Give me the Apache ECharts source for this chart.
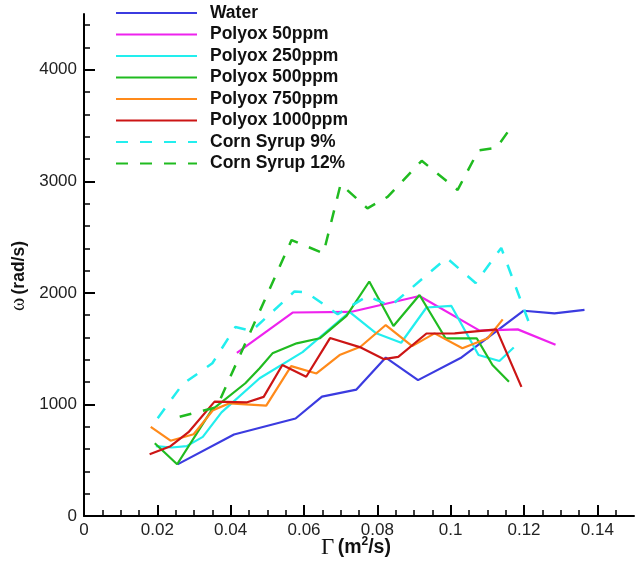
<!DOCTYPE html>
<html>
<head>
<meta charset="utf-8">
<script src="https://cdn.jsdelivr.net/npm/echarts@6/dist/echarts.min.js"></script>
<style>html,body{margin:0;padding:0;background:#fff;}#c{width:635px;height:562px;}</style>
</head>
<body>
<div id="c"></div>
<script>
// ---- data (Γ in m^2/s, ω in rad/s) ----
const water      = [[0.0255,463],[0.0409,731],[0.0577,874],[0.0649,1070],[0.0743,1133],[0.0823,1420],[0.0911,1218],[0.1027,1416],[0.1124,1654],[0.1199,1840],[0.1283,1817],[0.1365,1847]];
const polyox50   = [[0.0417,1463],[0.0569,1824],[0.0727,1829],[0.0915,1972],[0.1079,1662],[0.1183,1673],[0.1286,1535]];
const polyox250  = [[0.0196,626],[0.0239,614],[0.0280,626],[0.0324,709],[0.0375,929],[0.0479,1235],[0.0596,1469],[0.0724,1829],[0.0797,1638],[0.0865,1553],[0.0934,1869],[0.1002,1883],[0.1076,1443],[0.1133,1389],[0.1172,1510]];
const polyox500  = [[0.0193,652],[0.0254,464],[0.0348,949],[0.0440,1190],[0.0479,1324],[0.0514,1458],[0.0580,1548],[0.0643,1593],[0.0716,1794],[0.0778,2102],[0.0844,1703],[0.0915,1981],[0.0986,1593],[0.1071,1593],[0.1114,1353],[0.1159,1203]];
const polyox750  = [[0.0182,799],[0.0236,675],[0.0299,733],[0.0352,949],[0.0397,1010],[0.0497,989],[0.0565,1344],[0.0634,1278],[0.0697,1443],[0.0754,1517],[0.0823,1712],[0.0895,1523],[0.0956,1637],[0.1032,1503],[0.1101,1593],[0.1142,1763]];
const polyox1000 = [[0.0179,554],[0.0236,626],[0.0285,751],[0.0356,1025],[0.0443,1018],[0.0490,1068],[0.0541,1353],[0.0606,1248],[0.0671,1595],[0.0752,1514],[0.0817,1407],[0.0857,1427],[0.0934,1636],[0.1011,1637],[0.1125,1673],[0.1193,1158]];
const cornSyrup9 = [[0.0201,877],[0.0269,1182],[0.0350,1369],[0.0413,1694],[0.0457,1658],[0.0574,2013],[0.0607,2004],[0.0692,1809],[0.0773,1972],[0.0836,1883],[0.0989,2313],[0.1068,2089],[0.1138,2403],[0.1218,1694]];
const cornSyrup12= [[0.0261,890],[0.0362,976],[0.0566,2473],[0.0653,2355],[0.0700,2975],[0.0773,2758],[0.0828,2861],[0.0921,3184],[0.1019,2923],[0.1076,3278],[0.1125,3301],[0.1166,3490]];

const seriesNames = ['Water','Polyox 50ppm','Polyox 250ppm','Polyox 500ppm','Polyox 750ppm','Polyox 1000ppm','Corn Syrup 9%','Corn Syrup 12%'];

// ---- tick values ----
const xMajorTicks = [0,0.02,0.04,0.06,0.08,0.1,0.12,0.14];
const xMinorTicks = [0.005,0.01,0.015,0.025,0.03,0.035,0.045,0.05,0.055,0.065,0.07,0.075,0.085,0.09,0.095,0.105,0.11,0.115,0.125,0.13,0.135,0.145];
const yMajorTicks = [0,1000,2000,3000,4000];
const yMinorTicks = [200,400,600,800,1200,1400,1600,1800,2200,2400,2600,2800,3200,3400,3600,3800,4200,4400];

const FONT = '"Liberation Sans", Arial, sans-serif';
const colors = ['#3b3be0','#ee22ee','#22eeee','#20bb20','#ff8a1a','#cc1515','#22eeee','#20bb20'];
const dataSets = [water,polyox50,polyox250,polyox500,polyox750,polyox1000,cornSyrup9,cornSyrup12];

const series = dataSets.map((d,i)=>({
  name: seriesNames[i],
  type: 'line',
  xAxisIndex: 0, yAxisIndex: 0,
  data: d,
  symbol: 'circle',
  symbolSize: 0,
  showSymbol: false,
  animation: false,
  lineStyle: {color: colors[i], width: i>=6 ? 2.5 : 2.2, type: i>=6 ? [12,12] : 'solid'},
  itemStyle: {color: colors[i]}
}));

const chart = echarts.init(document.getElementById('c'), null, {renderer:'canvas'});
chart.setOption({
  backgroundColor: '#fff',
  animation: false,
  grid: {left: 84, right: 1, top: 14, bottom: 46, containLabel: false, outerBoundsMode: 'none'},
  legend: {
    orient: 'vertical', left: 115, top: 4, padding: 0,
    itemWidth: 81, itemHeight: 14, itemGap: 3.5,
    data: seriesNames,
    itemStyle: {opacity: 0},
    textStyle: {fontFamily: FONT, fontSize: 17.5, fontWeight: 'bold', color: '#111', padding: [0,0,0,8]}
  },
  xAxis: [{
    type: 'value', min: 0, max: 0.15,
    name: '{g|Γ} {b|(m}{s|2}{b|/s)}', nameLocation: 'middle', nameGap: 20, nameMoveOverlap: false,
    nameTextStyle: {padding: [0, 6, 0, 0], rich: {
      g: {fontFamily: '"Liberation Serif", "DejaVu Serif", serif', fontSize: 23, color: '#111'},
      b: {fontFamily: FONT, fontSize: 19.5, fontWeight: 'bold', color: '#111'},
      s: {fontFamily: FONT, fontSize: 12, fontWeight: 'bold', color: '#111', verticalAlign: 'top'}
    }},
    axisLine: {show: true, lineStyle: {color: '#000', width: 2}},
    axisTick: {show: true, inside: true, length: 11, lineStyle: {color: '#000', width: 2}, customValues: xMajorTicks},
    axisLabel: {show: true, margin: 6, fontFamily: FONT, fontSize: 17, color: '#222', customValues: xMajorTicks,
      formatter: v => String(v)},
    splitLine: {show: false}
  },{
    type: 'value', min: 0, max: 0.15, position: 'bottom',
    axisLine: {show: false},
    axisTick: {show: true, inside: true, length: 6, lineStyle: {color: '#000', width: 1.5}, customValues: xMinorTicks},
    axisLabel: {show: false},
    splitLine: {show: false}
  }],
  yAxis: [{
    type: 'value', min: 0, max: 4500,
    name: '{w|ω} {b|(rad/s)}', nameLocation: 'middle', nameGap: 55, nameMoveOverlap: false,
    nameTextStyle: {padding: [0, 22, 0, 0], rich: {
      w: {fontFamily: '"Liberation Serif", "DejaVu Serif", serif', fontSize: 20, color: '#111'},
      b: {fontFamily: FONT, fontSize: 17.5, fontWeight: 'bold', color: '#111'}
    }},
    axisLine: {show: true, lineStyle: {color: '#000', width: 2}},
    axisTick: {show: true, inside: true, length: 11, lineStyle: {color: '#000', width: 2}, customValues: yMajorTicks},
    axisLabel: {show: true, margin: 7, fontFamily: FONT, fontSize: 17, color: '#222', customValues: yMajorTicks,
      formatter: v => String(v)},
    splitLine: {show: false}
  },{
    type: 'value', min: 0, max: 4500, position: 'left',
    axisLine: {show: false},
    axisTick: {show: true, inside: true, length: 6, lineStyle: {color: '#000', width: 1.5}, customValues: yMinorTicks},
    axisLabel: {show: false},
    splitLine: {show: false}
  }],
  series: series
});
</script>
</body>
</html>
